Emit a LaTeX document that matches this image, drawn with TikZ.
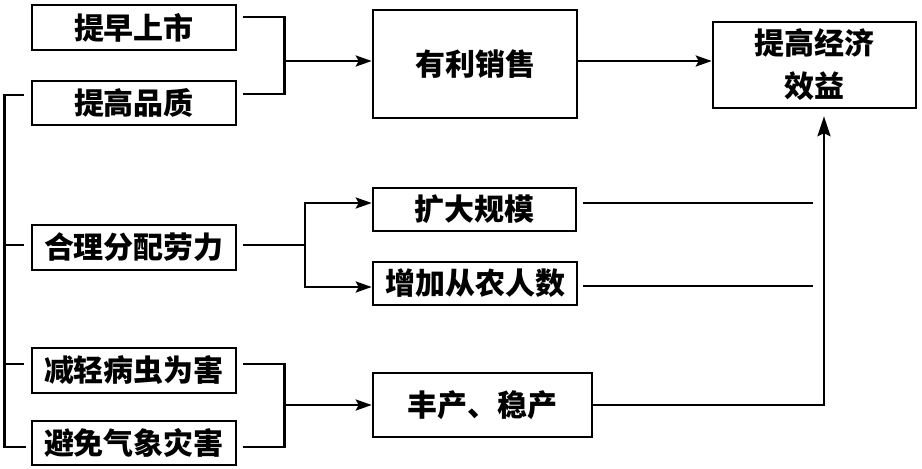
\documentclass[tikz,border=0pt]{standalone}
\usepackage{fontspec}
\setmainfont{Noto Sans CJK SC}
\usetikzlibrary{arrows.meta}
\begin{document}
\begin{tikzpicture}[x=1pt,y=-1pt,line width=2.6pt,
  box/.style={draw,line width=2.5pt,inner sep=0pt,align=center,
    font=\fontsize{30}{43}\selectfont\bfseries},
  arr/.style={-{Stealth[length=16pt,width=11pt,inset=3pt]}},
  arrup/.style={-{Stealth[length=20pt,width=13pt,inset=3pt]}}]
\useasboundingbox (0,0) rectangle (922,469);
% left boxes
\node[box,minimum width=204pt,minimum height=45pt] (a) at (134,27.5) {提早上市};
\node[box,minimum width=204pt,minimum height=44pt] (b) at (134,103) {提高品质};
\node[box,minimum width=204pt,minimum height=45pt] (c) at (134,247.5) {合理分配劳力};
\node[box,minimum width=204pt,minimum height=45pt] (d) at (134,370.5) {减轻病虫为害};
\node[box,minimum width=204pt,minimum height=44pt] (e) at (134,443) {避免气象灾害};
% middle boxes
\node[box,minimum width=204pt,minimum height=108pt] (f) at (475,64) {有利销售};
\node[box,minimum width=203pt,minimum height=43pt] (h) at (474.5,209.5) {扩大规模};
\node[box,minimum width=204pt,minimum height=43pt] (i) at (475,283.5) {增加从农人数};
\node[box,minimum width=219pt,minimum height=64pt] (j) at (482.5,405) {丰产、稳产};
% right box
\node[box,minimum width=203pt,minimum height=86pt] (g) at (814.5,65) {提高经济\\效益};
% junctions
\coordinate (j1) at (283,61);
\coordinate (j2) at (305,245);
\coordinate (j3) at (283,405);
% top bracket
\draw ([xshift=6pt,yshift=10.5pt]a.east) -- ++(41,0) |- ([xshift=6pt,yshift=9pt]b.east);
\draw[arr] (j1) -- (j1 -| f.west);
\draw[arr] ([yshift=3pt]f.east) -- ([yshift=3pt]f.east -| g.west);
% left spine
\draw ([xshift=-7pt,yshift=8pt]b.west) -- ++(-19,0) |- ([xshift=-5pt,yshift=-4pt]e.west);
\draw ([xshift=-7pt,yshift=2.5pt]c.west) -- ++(-19,0);
\draw ([xshift=-7pt,yshift=6.5pt]d.west) -- ++(-19,0);
% middle bracket
\draw ([xshift=6pt,yshift=2.5pt]c.east) -- (j2);
\draw[arr] (j2) |- ([yshift=6.5pt]h.west);
\draw[arr] (j2) |- ([yshift=-3.5pt]i.west);
\draw ([xshift=6pt,yshift=6.5pt]h.east) -- ++(230,0);
\draw ([xshift=5pt,yshift=-2.5pt]i.east) -- ++(230,0);
% lower bracket
\draw ([xshift=6pt,yshift=6.5pt]d.east) -- ++(41,0) |- ([xshift=6pt,yshift=-4pt]e.east);
\draw[arr] (j3) -- (j3 -| j.west);
\draw[arrup,shorten >=7pt] (j.east) -| ([xshift=9.5pt]g.south);
\end{tikzpicture}
\end{document}
